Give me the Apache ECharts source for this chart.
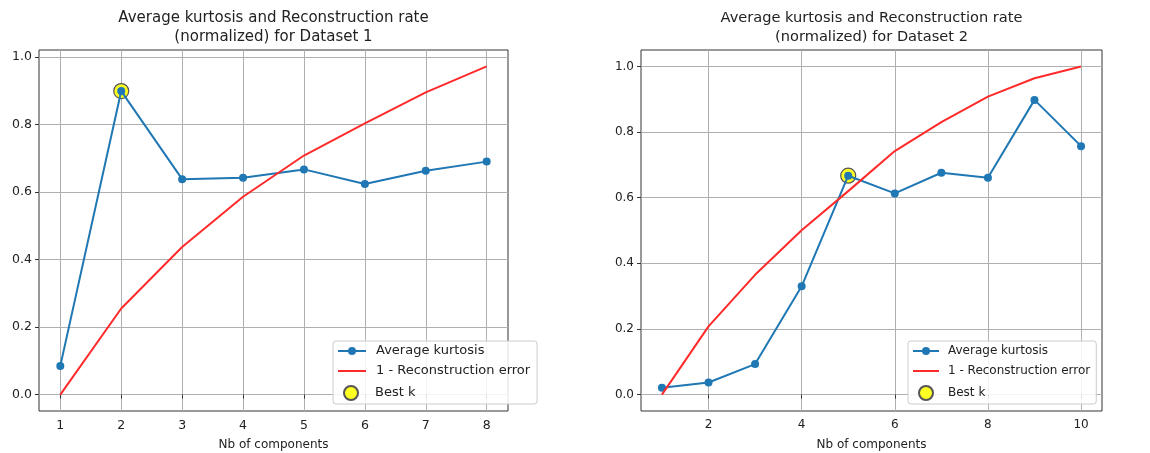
<!DOCTYPE html>
<html>
<head>
<meta charset="utf-8">
<script src="https://cdn.jsdelivr.net/npm/echarts@6/dist/echarts.min.js"></script>
<style>html,body{margin:0;padding:0;background:#fff}#c{width:1150px;height:453px}</style>
</head>
<body>
<div id="c"></div>
<script>
// ---- data ----
const components1 = [1, 2, 3, 4, 5, 6, 7, 8];
const kurtosis1 = [0.085, 0.899, 0.638, 0.642, 0.667, 0.624, 0.663, 0.690];
const reconRate1 = [0.0, 0.255, 0.437, 0.586, 0.708, 0.803, 0.895, 0.972];
const bestK1 = 2;

const components2 = [1, 2, 3, 4, 5, 6, 7, 8, 9, 10];
const kurtosis2 = [0.021, 0.037, 0.093, 0.330, 0.667, 0.613, 0.676, 0.661, 0.898, 0.757];
const reconRate2 = [0.0, 0.208, 0.365, 0.501, 0.620, 0.742, 0.830, 0.908, 0.964, 1.0];
const bestK2 = 5;

const xTicks1 = [1, 2, 3, 4, 5, 6, 7, 8];
const xTicks2 = [2, 4, 6, 8, 10];
const yTicks = [0.0, 0.2, 0.4, 0.6, 0.8, 1.0];

const titles = ['Average kurtosis and Reconstruction rate\n(normalized) for Dataset 1',
                'Average kurtosis and Reconstruction rate\n(normalized) for Dataset 2'];
const xLabel = 'Nb of components';
const names = ['Average kurtosis', '1 - Reconstruction error', 'Best k'];

// ---- helpers ----
const FONT = 'DejaVu Sans';
const pairs = (xs, ys) => xs.map((x, i) => [x, ys[i]]);
function pad(min, max) { const m = (max - min) * 0.05; return [min - m, max + m]; }

const grids = [
  {left: 39, top: 50, width: 469, height: 361},
  {left: 641, top: 50, width: 461, height: 361}
];
const sty = [
  {title: 15, tick: 12.5, legend: 13, iconW: 28, textPad: 5, padR: 7, bOff: 10},
  {title: 14.6, tick: 12, legend: 12, iconW: 26, textPad: 4, padR: 6, bOff: 10}
];
const xs = [components1, components2];
const xTicks = [xTicks1, xTicks2];
const kurt = [kurtosis1, kurtosis2];
const rec = [reconRate1, reconRate2];
const best = [bestK1, bestK2];

const option = {
  animation: false,
  backgroundColor: '#fff',
  title: [], grid: [], xAxis: [], yAxis: [], series: [], legend: []
};

for (let g = 0; g < 2; g++) {
  const G = grids[g], S = sty[g];
  option.grid.push(Object.assign({show: true, borderColor: '#333', borderWidth: 1, backgroundColor: 'transparent',
    containLabel: false, outerBoundsMode: 'none'}, G));
  option.title.push({
    text: titles[g], left: G.left + G.width / 2, top: 9, textAlign: 'center', padding: 0,
    textStyle: {fontFamily: FONT, fontSize: S.title, fontWeight: 'normal', color: '#222', lineHeight: 19}
  });
  const xr = pad(Math.min(...xs[g]), Math.max(...xs[g]));
  const allY = kurt[g].concat(rec[g]);
  const yr = pad(Math.min(...allY), Math.max(...allY));
  option.xAxis.push({
    type: 'value', gridIndex: g, min: xr[0], max: xr[1],
    name: xLabel, nameLocation: 'middle', nameGap: 28,
    nameTextStyle: {fontFamily: FONT, fontSize: 12, color: '#222'},
    axisLine: {show: false},
    axisTick: {show: true, inside: false, length: 4, lineStyle: {color: '#333'}, customValues: xTicks[g]},
    axisLabel: {fontFamily: FONT, fontSize: S.tick, color: '#222', margin: 8, customValues: xTicks[g]},
    splitLine: {show: true, lineStyle: {color: '#b0b0b0', width: 1}}
  });
  option.yAxis.push({
    type: 'value', gridIndex: g, min: yr[0], max: yr[1],
    axisLine: {show: false},
    axisTick: {show: true, inside: false, length: 4, lineStyle: {color: '#333'}, customValues: yTicks},
    axisLabel: {fontFamily: FONT, fontSize: S.tick, color: '#222', margin: 7, customValues: yTicks,
                formatter: v => v.toFixed(1)},
    splitLine: {show: true, lineStyle: {color: '#b0b0b0', width: 1}}
  });
  const bi = xs[g].indexOf(best[g]);
  option.series.push({
    name: names[2], type: 'scatter', xAxisIndex: g, yAxisIndex: g, z: 2,
    data: [[best[g], kurt[g][bi]]], symbolSize: 15,
    itemStyle: {color: '#ffff22', borderColor: '#555', borderWidth: 1.2, opacity: 1}
  });
  option.series.push({
    name: names[0], type: 'line', xAxisIndex: g, yAxisIndex: g, z: 3,
    data: pairs(xs[g], kurt[g]), symbol: 'circle', symbolSize: 8, showSymbol: true,
    lineStyle: {color: '#1f77b4', width: 2}, itemStyle: {color: '#1f77b4'}
  });
  option.series.push({
    name: names[1], type: 'line', xAxisIndex: g, yAxisIndex: g, z: 4,
    data: pairs(xs[g], rec[g]), symbol: 'none',
    lineStyle: {color: '#ff2a2a', width: 2}, itemStyle: {color: '#ff2a2a'}
  });
}

const legendBox = [{left: 333, top: 341}, {left: 908, top: 341}];
for (let g = 0; g < 2; g++) {
  const S = sty[g];
  const txt = () => ({fontFamily: FONT, fontSize: S.legend, color: '#222', lineHeight: 14, padding: [0, 0, 0, S.textPad]});
  // framed legend with the two line entries
  option.legend.push({
    left: legendBox[g].left, top: legendBox[g].top, z: 5,
    orient: 'vertical',
    data: [{name: names[0]}, {name: names[1], itemStyle: {opacity: 0}}],
    itemWidth: S.iconW, itemHeight: 10, itemGap: 6,
    padding: [3, S.padR, 26, 4],
    backgroundColor: 'rgba(255,255,255,0.85)', borderColor: '#cccccc', borderWidth: 1, borderRadius: 3,
    textStyle: txt(), selectedMode: false
  });
  // scatter entry inside the same frame
  option.legend.push({
    left: legendBox[g].left + S.bOff, top: legendBox[g].top + 44, z: 6,
    orient: 'vertical', data: [names[2]],
    itemWidth: S.iconW, itemHeight: 14, padding: 0,
    textStyle: txt(), selectedMode: false
  });
}

const chart = echarts.init(document.getElementById('c'), null, {renderer: 'canvas'});
chart.setOption(option);
</script>
</body>
</html>
